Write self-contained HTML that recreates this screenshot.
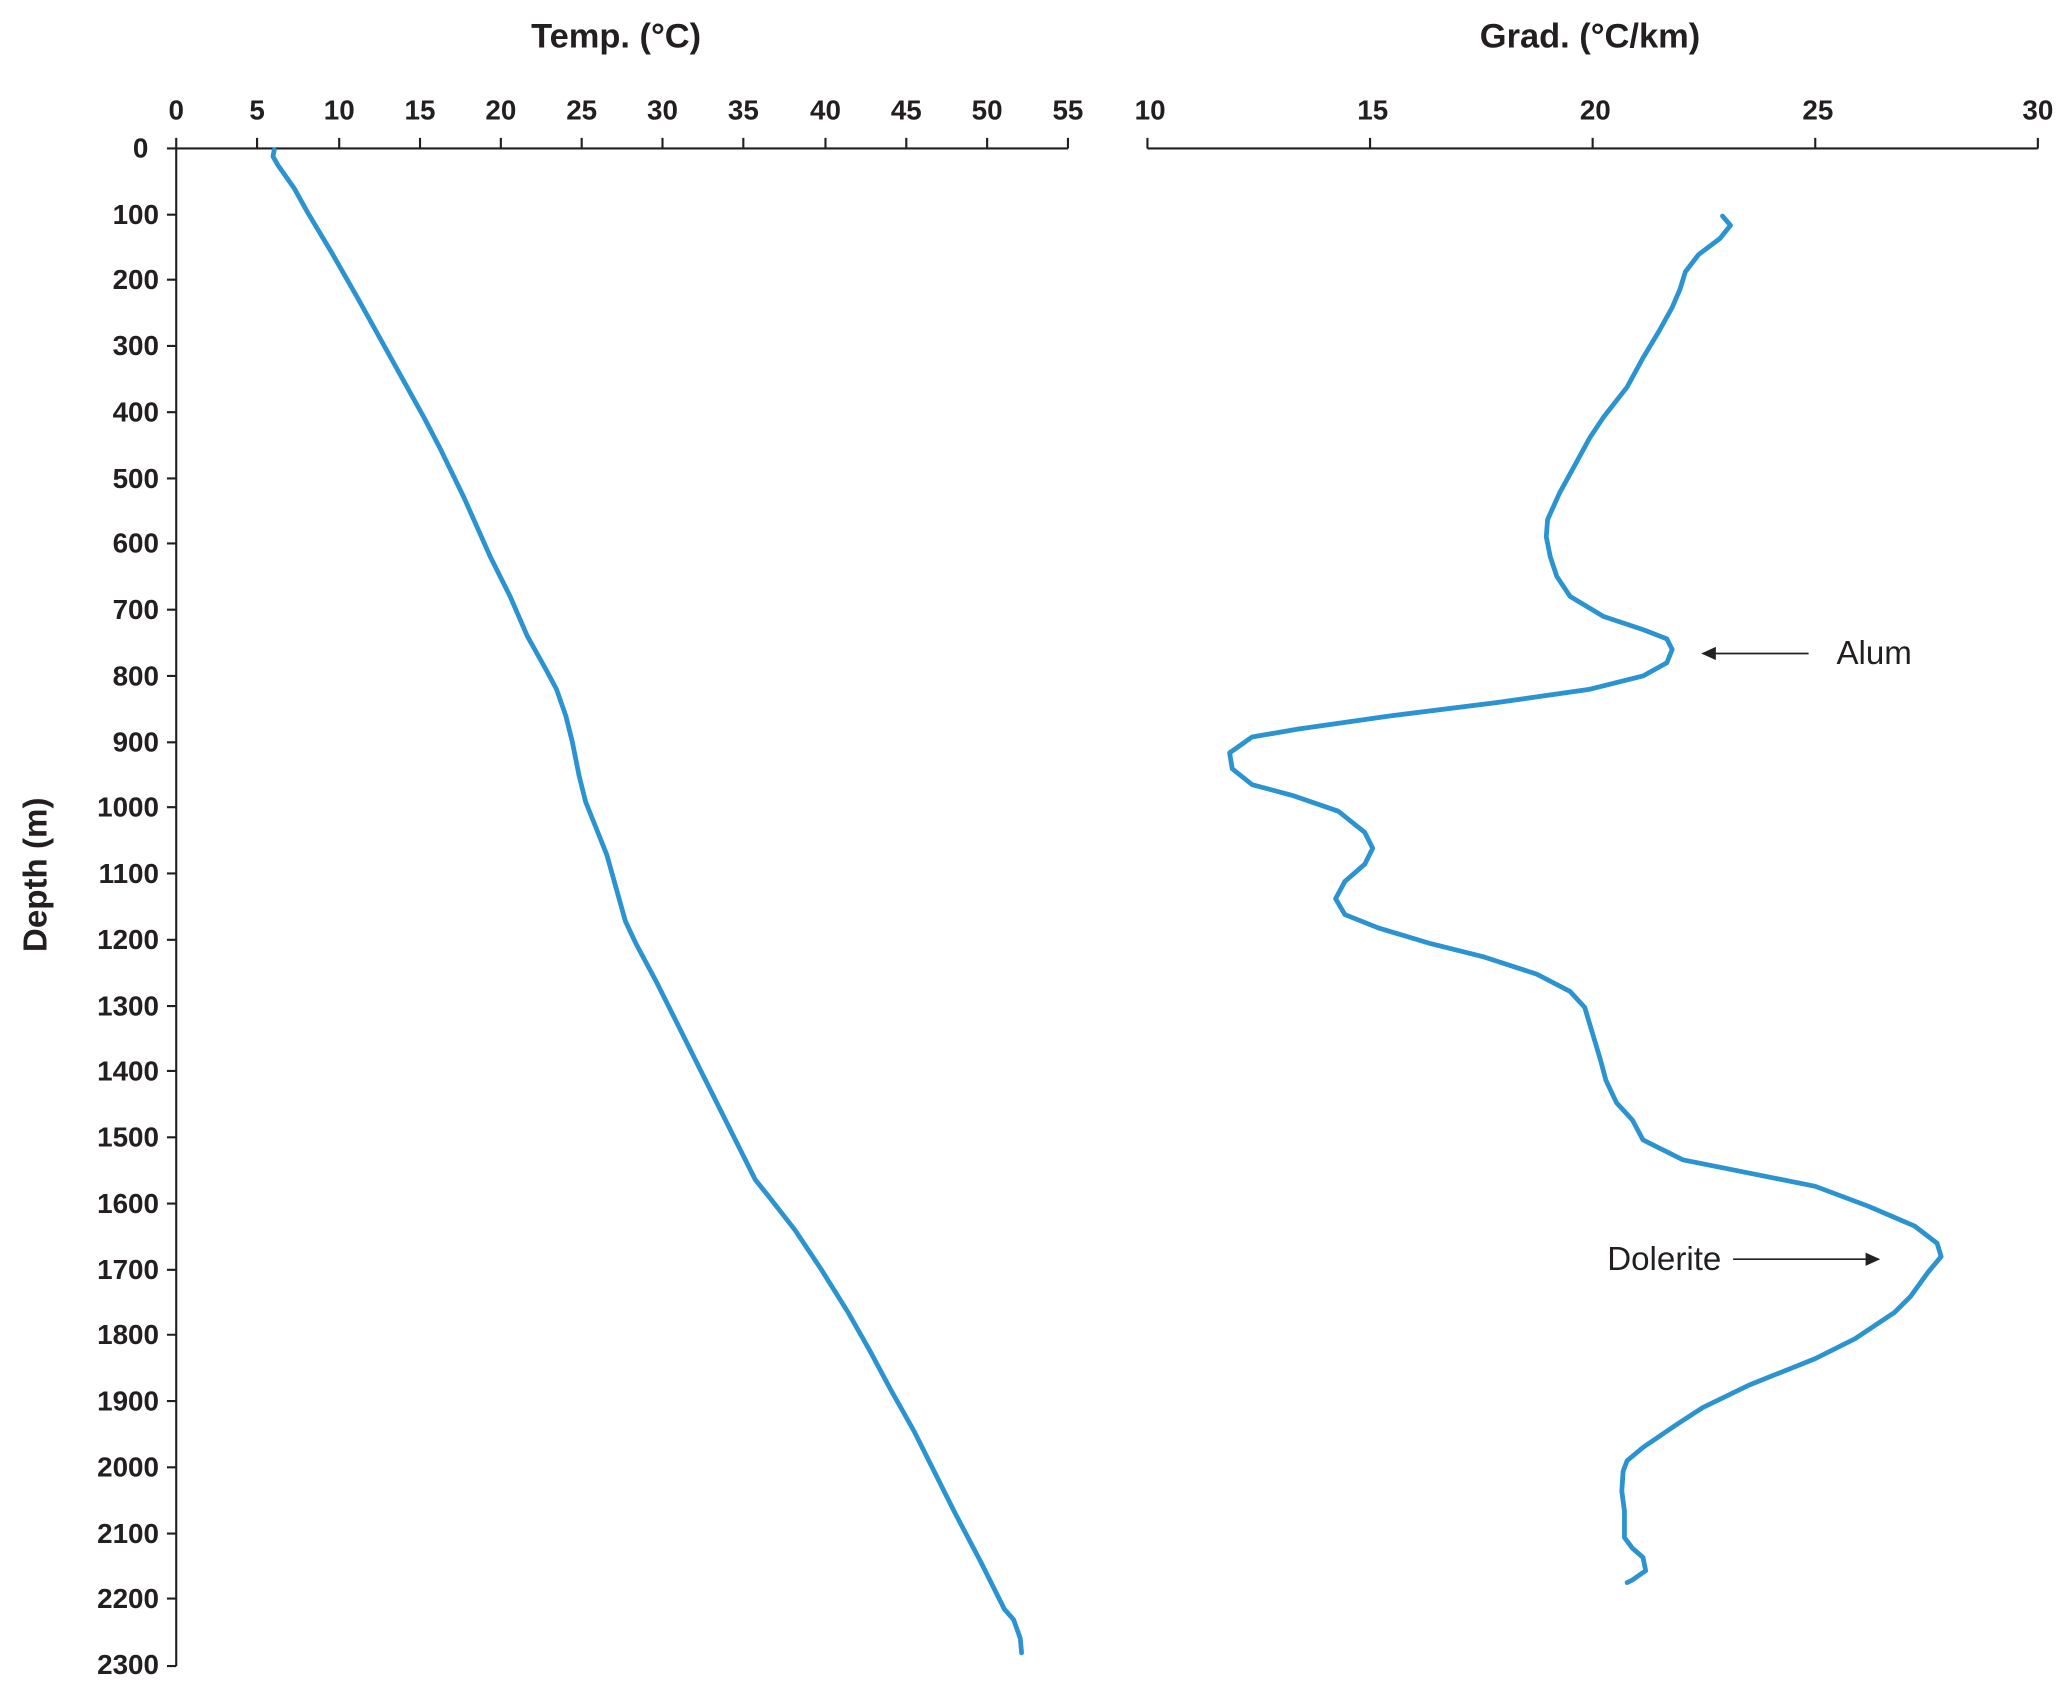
<!DOCTYPE html>
<html><head><meta charset="utf-8"><style>html,body{margin:0;padding:0;background:#fff}svg{display:block}</style></head>
<body>
<svg width="2067" height="1686" viewBox="0 0 1560 1272" preserveAspectRatio="none" xmlns="http://www.w3.org/2000/svg">
<defs><marker id="ah" markerWidth="12" markerHeight="10" refX="10" refY="5" orient="auto" markerUnits="userSpaceOnUse"><path d="M0,0 L11,5 L0,10 z" fill="#222"/></marker></defs>
<g font-family="Liberation Sans Narrow, Liberation Sans, sans-serif" font-weight="bold" fill="#231f20" font-size="21">
<text x="465" y="36" text-anchor="middle" font-size="26">Temp. (°C)</text>
<text x="1200" y="36" text-anchor="middle" font-size="26">Grad. (°C/km)</text>
<g text-anchor="middle">
<text x="133" y="90">0</text><text x="194" y="90">5</text><text x="256" y="90">10</text><text x="317" y="90">15</text><text x="378" y="90">20</text><text x="439" y="90">25</text><text x="500" y="90">30</text><text x="561" y="90">35</text><text x="623" y="90">40</text><text x="684" y="90">45</text><text x="745" y="90">50</text><text x="806" y="90">55</text>
<text x="868" y="90">10</text><text x="1036" y="90">15</text><text x="1204" y="90">20</text><text x="1372" y="90">25</text><text x="1538" y="90">30</text>
</g>
<g text-anchor="end">
<text x="112" y="119">0</text><text x="120" y="169">100</text><text x="120" y="218">200</text><text x="120" y="268">300</text><text x="120" y="318">400</text><text x="120" y="368">500</text><text x="120" y="417">600</text><text x="120" y="467">700</text><text x="120" y="517">800</text><text x="120" y="567">900</text><text x="120" y="616">1000</text><text x="120" y="666">1100</text><text x="120" y="716">1200</text><text x="120" y="766">1300</text><text x="120" y="815">1400</text><text x="120" y="865">1500</text><text x="120" y="915">1600</text><text x="120" y="965">1700</text><text x="120" y="1014">1800</text><text x="120" y="1064">1900</text><text x="120" y="1114">2000</text><text x="120" y="1164">2100</text><text x="120" y="1213">2200</text><text x="120" y="1263">2300</text>
</g>
<text transform="translate(35,660) rotate(-90)" text-anchor="middle" font-size="25">Depth (m)</text>
</g>
<g stroke="#231f20" stroke-width="1.6" fill="none">
<path d="M133,112 H806 M133,112 V1257"/>
<path d="M133,104V112 M194,104V112 M256,104V112 M317,104V112 M378,104V112 M439,104V112 M500,104V112 M561,104V112 M623,104V112 M684,104V112 M745,104V112 M806,104V112"/>
<path d="M126,112H133 M126,162H133 M126,211H133 M126,261H133 M126,311H133 M126,361H133 M126,410H133 M126,460H133 M126,510H133 M126,560H133 M126,609H133 M126,659H133 M126,709H133 M126,759H133 M126,808H133 M126,858H133 M126,908H133 M126,958H133 M126,1007H133 M126,1057H133 M126,1107H133 M126,1157H133 M126,1206H133 M126,1257H133"/>
<path d="M866,112H1538 M866,104V112 M1034,104V112 M1202,104V112 M1370,104V112 M1538,104V112"/>
</g>
<g stroke="#2a93d0" stroke-width="3.6" fill="none" stroke-linejoin="round" stroke-linecap="round">
<polyline points="207,113 206,118 210,125 222,142 232,160 250,190 270,225 295,270 320,315 332,338 350,375 370,420 385,450 398,480 412,505 420,520 427,540 432,560 437,585 442,605 452,630 458,645 465,670 472,695 480,712 495,740 510,770 530,810 550,850 570,890 582,905 600,928 620,958 640,990 657,1020 672,1048 690,1080 705,1110 720,1140 740,1178 758,1214 765,1222 770,1236 771,1247"/>
<polyline points="1300,163 1306,170 1298,180 1282,192 1272,205 1268,218 1262,232 1252,250 1240,270 1228,292 1210,315 1200,330 1188,352 1177,372 1168,392 1167,405 1170,420 1175,435 1185,450 1210,465 1240,475 1258,482 1262,490 1258,500 1240,510 1200,520 1130,530 1050,540 980,550 945,556 928,568 930,580 945,592 975,600 1010,612 1030,628 1036,640 1030,652 1015,665 1008,678 1015,690 1040,700 1080,712 1120,722 1160,735 1185,748 1196,760 1202,780 1208,800 1212,815 1220,832 1232,845 1240,860 1270,875 1320,885 1370,895 1410,910 1445,925 1462,938 1465,948 1455,960 1442,978 1430,990 1400,1010 1370,1025 1320,1045 1285,1062 1265,1075 1240,1092 1228,1102 1225,1110 1224,1125 1226,1140 1226,1160 1232,1168 1240,1175 1242,1185 1232,1192 1228,1194"/>
</g>
<g stroke="#222" stroke-width="1.3">
<line x1="1365" y1="493" x2="1285" y2="493" marker-end="url(#ah)"/>
<line x1="1308" y1="950" x2="1418" y2="950" marker-end="url(#ah)"/>
</g>
<g font-family="Liberation Sans, sans-serif" font-size="25" fill="#231f20">
<text x="1386" y="501">Alum</text>
<text x="1213" y="958">Dolerite</text>
</g>
</svg>
</body></html>
